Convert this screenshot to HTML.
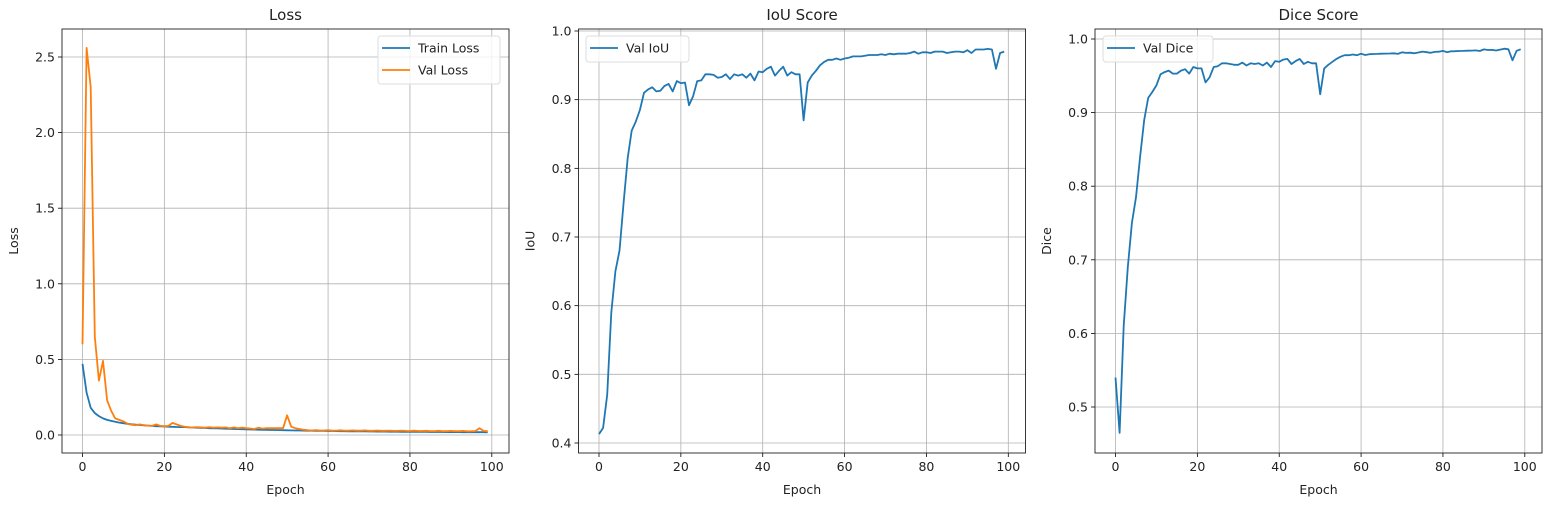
<!DOCTYPE html>
<html><head><meta charset="utf-8"><style>
html,body{margin:0;padding:0;background:#fff;}
svg{display:block;font-family:"DejaVu Sans","Liberation Sans",sans-serif;}
</style></head><body>
<svg id="s" width="1548" height="508" viewBox="0 0 1548 508" xmlns="http://www.w3.org/2000/svg"></svg>
<script>
const S=document.getElementById('s');let h='';
const trainL=[0.47,0.28,0.18,0.145,0.125,0.11,0.1,0.093,0.087,0.082,0.078,0.074,0.071,0.068,0.066,0.064,0.062,0.06,0.058,0.057,0.056,0.055,0.054,0.053,0.052];
for(let i=25;i<100;i++)trainL.push(0.015+0.037*Math.exp(-(i-25)/30));
const valL=[0.6,2.56,2.3,0.65,0.36,0.49,0.23,0.16,0.11,0.1,0.09,0.075,0.068,0.065,0.07,0.065,0.062,0.06,0.07,0.06,0.058,0.06,0.08,0.07,0.06,0.055,0.05,0.05,0.052,0.05,0.048,0.052,0.048,0.05,0.048,0.05,0.045,0.05,0.045,0.048,0.045,0.043,0.04,0.048,0.042,0.045,0.045,0.045,0.045,0.045,0.13,0.055,0.045,0.04,0.035,0.032];
for(let i=56;i<100;i++)valL.push(0.03-0.006*(i-56)/43+(i%3==0?0.002:0));
valL[97]=0.045;valL[98]=0.027;valL[99]=0.025;
const iou=[0.413,0.422,0.47,0.59,0.65,0.68,0.75,0.815,0.855,0.868,0.885,0.91,0.915,0.918,0.912,0.913,0.92,0.923,0.912,0.927,0.924,0.925,0.892,0.905,0.927,0.928,0.937,0.937,0.936,0.932,0.933,0.937,0.93,0.937,0.935,0.937,0.932,0.938,0.928,0.941,0.94,0.945,0.948,0.935,0.942,0.948,0.935,0.94,0.937,0.937,0.87,0.925,0.935,0.942,0.95,0.955,0.958,0.958,0.96,0.958,0.96,0.961,0.963,0.963,0.963,0.964,0.965,0.965,0.965,0.966,0.965,0.967,0.966,0.967,0.967,0.967,0.968,0.97,0.967,0.969,0.969,0.968,0.97,0.97,0.97,0.968,0.969,0.97,0.97,0.969,0.972,0.968,0.973,0.973,0.973,0.974,0.973,0.945,0.968,0.97];
const dice=[0.54,0.465,0.61,0.69,0.75,0.785,0.84,0.89,0.92,0.928,0.937,0.952,0.955,0.957,0.953,0.953,0.957,0.959,0.953,0.962,0.96,0.96,0.941,0.948,0.962,0.963,0.967,0.967,0.966,0.965,0.965,0.968,0.964,0.967,0.966,0.967,0.964,0.968,0.962,0.97,0.969,0.972,0.973,0.966,0.97,0.973,0.966,0.969,0.967,0.967,0.925,0.96,0.965,0.969,0.973,0.976,0.978,0.978,0.979,0.978];
for(let i=60;i<100;i++)dice.push(0.979+0.007*(i-60)/36+(i%4==1?-0.001:0)+(i%5==0?0.001:0));
dice[97]=0.971;dice[98]=0.984;dice[99]=0.986;
function panel(L,title,ylab,yv0,yp0,yv1,yp1,ticks,dec,series,legend,legX,legW){
 const R=L+447,T=29,B=453,x0=L+20.5,sx=4.093;
 const X=e=>x0+e*sx,Y=v=>yp0+(v-yv0)*(yp1-yp0)/(yv1-yv0);
 for(let e=0;e<=100;e+=20){const x=X(e);h+=`<line x1="${x}" y1="${T}" x2="${x}" y2="${B}" stroke="#b0b0b0" stroke-width="0.8"/><line x1="${x}" y1="${B}" x2="${x}" y2="${B+4}" stroke="#000" stroke-width="0.8"/><text x="${x}" y="${B+18}" font-size="12.5" text-anchor="middle" fill="#222">${e}</text>`;}
 ticks.forEach(v=>{const y=Y(v);h+=`<line x1="${L}" y1="${y}" x2="${R}" y2="${y}" stroke="#b0b0b0" stroke-width="0.8"/><line x1="${L-4}" y1="${y}" x2="${L}" y2="${y}" stroke="#000" stroke-width="0.8"/><text x="${L-7}" y="${y+4.5}" font-size="12.5" text-anchor="end" fill="#222">${v.toFixed(dec)}</text>`;});
 series.forEach(s=>{h+=`<polyline fill="none" stroke="${s.c}" stroke-width="1.8" stroke-linejoin="round" points="${s.d.map((v,i)=>X(i).toFixed(1)+','+Y(v).toFixed(1)).join(' ')}"/>`;});
 h+=`<rect x="${L}" y="${T}" width="447" height="${B-T}" fill="none" stroke="#222" stroke-width="0.9"/>`;
 h+=`<text x="${(L+R)/2}" y="20" font-size="15" text-anchor="middle" fill="#222">${title}</text>`;
 h+=`<text x="${(L+R)/2}" y="494" font-size="12.5" text-anchor="middle" fill="#222">Epoch</text>`;
 h+=`<text transform="translate(${L-44},${(T+B)/2}) rotate(-90)" font-size="12.5" text-anchor="middle" fill="#222">${ylab}</text>`;
 const lh=legend.length*22+4;
 h+=`<rect x="${legX}" y="36" width="${legW}" height="${lh}" rx="3" fill="#fff" fill-opacity="0.8" stroke="#ddd"/>`;
 legend.forEach((g,i)=>{const y=48+i*22;h+=`<line x1="${legX+4}" y1="${y}" x2="${legX+32}" y2="${y}" stroke="${g.c}" stroke-width="1.8"/><text x="${legX+40}" y="${y+4.5}" font-size="12.5" fill="#222">${g.t}</text>`;});
}
const B1='#1f77b4',O1='#ff7f0e';
panel(62,'Loss','Loss',0,435,2.5,57,[0,0.5,1,1.5,2,2.5],1,[{c:B1,d:trainL},{c:O1,d:valL}],[{c:B1,t:'Train Loss'},{c:O1,t:'Val Loss'}],378,122);
panel(578.5,'IoU Score','IoU',0.4,443,1.0,31,[0.4,0.5,0.6,0.7,0.8,0.9,1.0],1,[{c:B1,d:iou}],[{c:B1,t:'Val IoU'}],586,103);
panel(1095,'Dice Score','Dice',0.5,407,1.0,39,[0.5,0.6,0.7,0.8,0.9,1.0],1,[{c:B1,d:dice}],[{c:B1,t:'Val Dice'}],1103,110);
S.innerHTML=h;
</script>
</body></html>
